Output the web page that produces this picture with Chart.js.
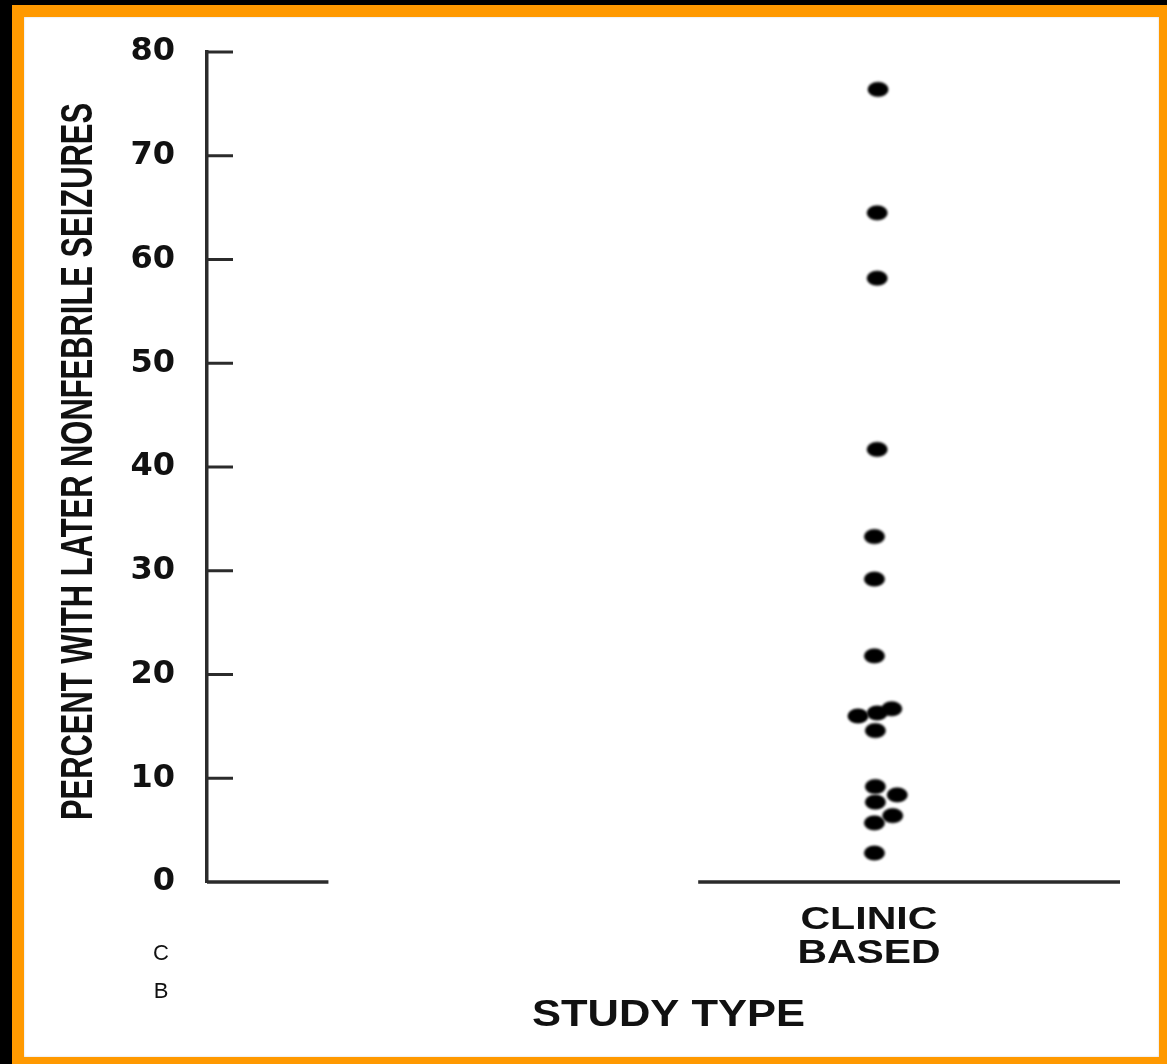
<!DOCTYPE html>
<html>
<head>
<meta charset="utf-8">
<script src="https://cdn.jsdelivr.net/npm/chart.js"></script>
<style>
  body { margin: 0; background: #000; width: 1167px; height: 1064px; overflow: hidden; }
  #marco { position: absolute; left: 12px; top: 5px; width: 1155px; height: 1059px; background: #ff9900; }
  #hoja { position: absolute; left: 24px; top: 17px; width: 1135px; height: 1040px; background: #fff; box-shadow: inset 0 0 2px #ccc; }
  #myChart { position: absolute; left: 0; top: 0; }
</style>
</head>
<body>
<div id="marco"></div>
<div id="hoja"></div>
<canvas id="myChart" width="1167" height="1064"></canvas>
<script>
// Datos
const percentValues = [76.4, 64.5, 58.2, 41.7, 33.3, 29.2, 21.8, 16.0, 16.3, 16.7, 14.6, 9.2, 7.7, 8.4, 6.4, 5.7, 2.8];
const jitterX = [73.5, 73.4, 73.4, 73.4, 73.1, 73.1, 73.1, 71.3, 73.4, 75.0, 73.2, 73.2, 73.2, 75.6, 75.1, 73.1, 73.1];
const categoryX = [72.5];
const categoryLabels = [['CLINIC', 'BASED']];
const axisSegments = [[0, 13.3], [53.8, 100]];
const yTicks = [0, 10, 20, 30, 40, 50, 60, 70, 80];
const yTitle = 'PERCENT WITH LATER NONFEBRILE SEIZURES';
const xTitle = 'STUDY TYPE';
const sideLetters = ['C', 'B'];

// Punto eliptico como en el original
const punto = document.createElement('canvas');
punto.width = 26;
punto.height = 20;
const pctx = punto.getContext('2d');
pctx.filter = 'blur(0.8px)';
pctx.fillStyle = '#000';
pctx.beginPath();
pctx.ellipse(13, 10, 10.5, 7.5, 0, 0, Math.PI * 2);
pctx.fill();

// Texto con ancho ajustado
function fitText(ctx, text, cx, base, font, width) {
  ctx.save();
  ctx.font = font;
  const w = ctx.measureText(text).width;
  ctx.translate(cx, base);
  ctx.scale(width / w, 1);
  ctx.textAlign = 'center';
  ctx.textBaseline = 'alphabetic';
  ctx.fillText(text, 0, 0);
  ctx.restore();
}

const dibujoEjes = {
  id: 'dibujoEjes',
  afterDraw(chart) {
    const { ctx, scales: { x, y } } = chart;
    ctx.save();
    ctx.strokeStyle = '#2b2b2b';
    ctx.lineWidth = 3.5;
    // eje x partido en dos tramos
    axisSegments.forEach(seg => {
      ctx.beginPath();
      ctx.moveTo(x.getPixelForValue(seg[0]), y.getPixelForValue(0));
      ctx.lineTo(x.getPixelForValue(seg[1]), y.getPixelForValue(0));
      ctx.stroke();
    });
    // marcas hacia adentro
    ctx.lineWidth = 3;
    y.ticks.forEach(t => {
      if (t.value === 0) return;
      const py = y.getPixelForValue(t.value);
      ctx.beginPath();
      ctx.moveTo(x.left, py);
      ctx.lineTo(x.left + 26, py);
      ctx.stroke();
    });
    ctx.fillStyle = '#111';
    // titulo del eje y, condensado
    ctx.save();
    ctx.translate(92, 461.5);
    ctx.rotate(-Math.PI / 2);
    fitText(ctx, yTitle, 0, 0, 'bold 44px "Liberation Sans", Arial, sans-serif', 717);
    ctx.restore();
    // etiqueta de categoria
    categoryX.forEach((cx, i) => {
      const px = x.getPixelForValue(cx);
      fitText(ctx, categoryLabels[i][0], px, 929, 'bold 31px "Liberation Sans", Arial, sans-serif', 137);
      fitText(ctx, categoryLabels[i][1], px, 963, 'bold 33px "Liberation Sans", Arial, sans-serif', 143);
    });
    fitText(ctx, xTitle, 668.5, 1026, 'bold 36px "Liberation Sans", Arial, sans-serif', 273);
    ctx.font = '22px "Liberation Sans", Arial, sans-serif';
    ctx.textAlign = 'center';
    ctx.textBaseline = 'alphabetic';
    ctx.fillText(sideLetters[0], 161, 960);
    ctx.fillText(sideLetters[1], 161, 998);
    ctx.restore();
  }
};

const ctx = document.getElementById('myChart');
new Chart(ctx, {
  type: 'scatter',
  data: {
    datasets: [{
      data: percentValues.map((v, i) => ({ x: jitterX[i], y: v })),
      pointStyle: punto,
      pointRadius: 10,
      pointHoverRadius: 10
    }]
  },
  options: {
    responsive: false,
    devicePixelRatio: 1,
    animation: false,
    layout: { padding: { left: 0, top: 52, right: 47, bottom: 182 } },
    plugins: { legend: { display: false }, tooltip: { enabled: false } },
    scales: {
      x: {
        type: 'linear',
        min: 0,
        max: 100,
        display: false
      },
      y: {
        min: 0,
        max: 80,
        afterFit(scale) { scale.width = 207; },
        afterBuildTicks(scale) { scale.ticks = yTicks.map(v => ({ value: v })); },
        grid: { display: false },
        border: { display: true, color: '#2b2b2b', width: 3.5 },
        ticks: {
          padding: 24,
          color: '#111',
          font: { family: '"DejaVu Sans", sans-serif', weight: 'bold', size: 32 }
        }
      }
    }
  },
  plugins: [dibujoEjes]
});
</script>
</body>
</html>
